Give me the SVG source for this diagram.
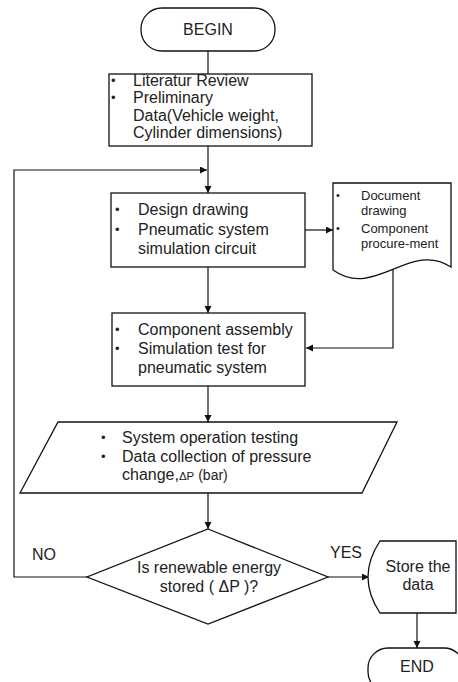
<svg xmlns="http://www.w3.org/2000/svg" width="458" height="682" viewBox="0 0 458 682">
<defs>
<style>
.s{fill:#fff;stroke:#111;stroke-width:1.3}
.t{font-family:"Liberation Sans",Arial,sans-serif;font-size:16px;fill:#222}
.d{font-size:13px}
.b{font-size:13px}
.bd{font-size:11px}
.m{text-anchor:middle}
.c{fill:none;stroke:#111;stroke-width:1.2}
</style>
<marker id="ah" markerUnits="userSpaceOnUse" markerWidth="8" markerHeight="8" refX="7" refY="3.5" orient="auto">
<path d="M0,0 L7,3.5 L0,7 z" fill="#111"/>
</marker>
</defs>
<rect width="458" height="682" fill="#fff"/>

<g id="connectors">
<line class="c" x1="208" y1="51" x2="208" y2="74"/>
<line class="c" x1="208" y1="146" x2="208" y2="193" marker-end="url(#ah)"/>
<polyline class="c" points="88,577 14,577 14,170 207,170" marker-end="url(#ah)"/>
<line class="c" x1="305" y1="230" x2="333" y2="230" marker-end="url(#ah)"/>
<line class="c" x1="208" y1="267" x2="208" y2="313" marker-end="url(#ah)"/>
<polyline class="c" points="393,270 393,348 306,348" marker-end="url(#ah)"/>
<line class="c" x1="208" y1="386" x2="208" y2="422" marker-end="url(#ah)"/>
<line class="c" x1="208" y1="493" x2="208" y2="529" marker-end="url(#ah)"/>
<line class="c" x1="328" y1="577" x2="369" y2="577" marker-end="url(#ah)"/>
<line class="c" x1="417" y1="613" x2="417" y2="648" marker-end="url(#ah)"/>
<text class="t" x="32" y="560">NO</text>
<text class="t" x="330" y="558">YES</text>
</g>

<g id="begin">
<rect class="s" x="141" y="8" width="134" height="43" rx="21"/>
<text class="t m" x="208" y="35">BEGIN</text>
</g>

<g id="literature">
<rect class="s" x="109" y="74" width="203" height="72"/>
<text class="t b" x="111" y="85">•</text>
<text class="t b" x="111" y="102">•</text>
<text class="t" x="133" y="86">Literatur Review</text>
<text class="t" x="133" y="103">Preliminary</text>
<text class="t" x="133" y="121">Data(Vehicle weight,</text>
<text class="t" x="133" y="138">Cylinder dimensions)</text>
</g>

<g id="design">
<rect class="s" x="111" y="193" width="194" height="74"/>
<text class="t b" x="115" y="214">•</text>
<text class="t b" x="115" y="234">•</text>
<text class="t" x="138" y="215">Design drawing</text>
<text class="t" x="138" y="235">Pneumatic system</text>
<text class="t" x="138" y="254">simulation circuit</text>
</g>

<g id="document">
<path class="s" d="M333,183 H451 V267 C410,240 375,300 333,270 Z"/>
<text class="t bd" x="336" y="199">•</text>
<text class="t bd" x="336" y="232">•</text>
<text class="t d" x="361" y="200">Document</text>
<text class="t d" x="361" y="215">drawing</text>
<text class="t d" x="361" y="233">Component</text>
<text class="t d" x="361" y="248">procure-ment</text>
</g>

<g id="assembly">
<rect class="s" x="112" y="313" width="193" height="73"/>
<text class="t b" x="115" y="334">•</text>
<text class="t b" x="115" y="353">•</text>
<text class="t" x="138" y="335">Component assembly</text>
<text class="t" x="138" y="354">Simulation test for</text>
<text class="t" x="138" y="373">pneumatic system</text>
</g>

<g id="testing">
<polygon class="s" points="58,422 397,422 362,493 20,493"/>
<text class="t b" x="101" y="442">•</text>
<text class="t b" x="101" y="461">•</text>
<text class="t" x="122" y="443">System operation testing</text>
<text class="t" x="122" y="462">Data collection of pressure</text>
<text class="t" x="122" y="480">change,<tspan font-size="11.5">ΔP</tspan><tspan font-size="14"> (bar)</tspan></text>
</g>

<g id="decision">
<polygon class="s" points="208,529 328,577 208,624 87,577"/>
<text class="t m" x="209" y="573">Is renewable energy</text>
<text class="t m" x="209" y="592">stored ( ΔP )?</text>
</g>

<g id="store">
<path class="s" d="M380,541 H456 V613 H380 Q356,577 380,541 Z"/>
<text class="t m" x="418" y="572">Store the</text>
<text class="t m" x="418" y="590">data</text>
</g>

<g id="end">
<rect class="s" x="368" y="648" width="96" height="44" rx="20"/>
<text class="t m" x="417" y="672">END</text>
</g>
</svg>
